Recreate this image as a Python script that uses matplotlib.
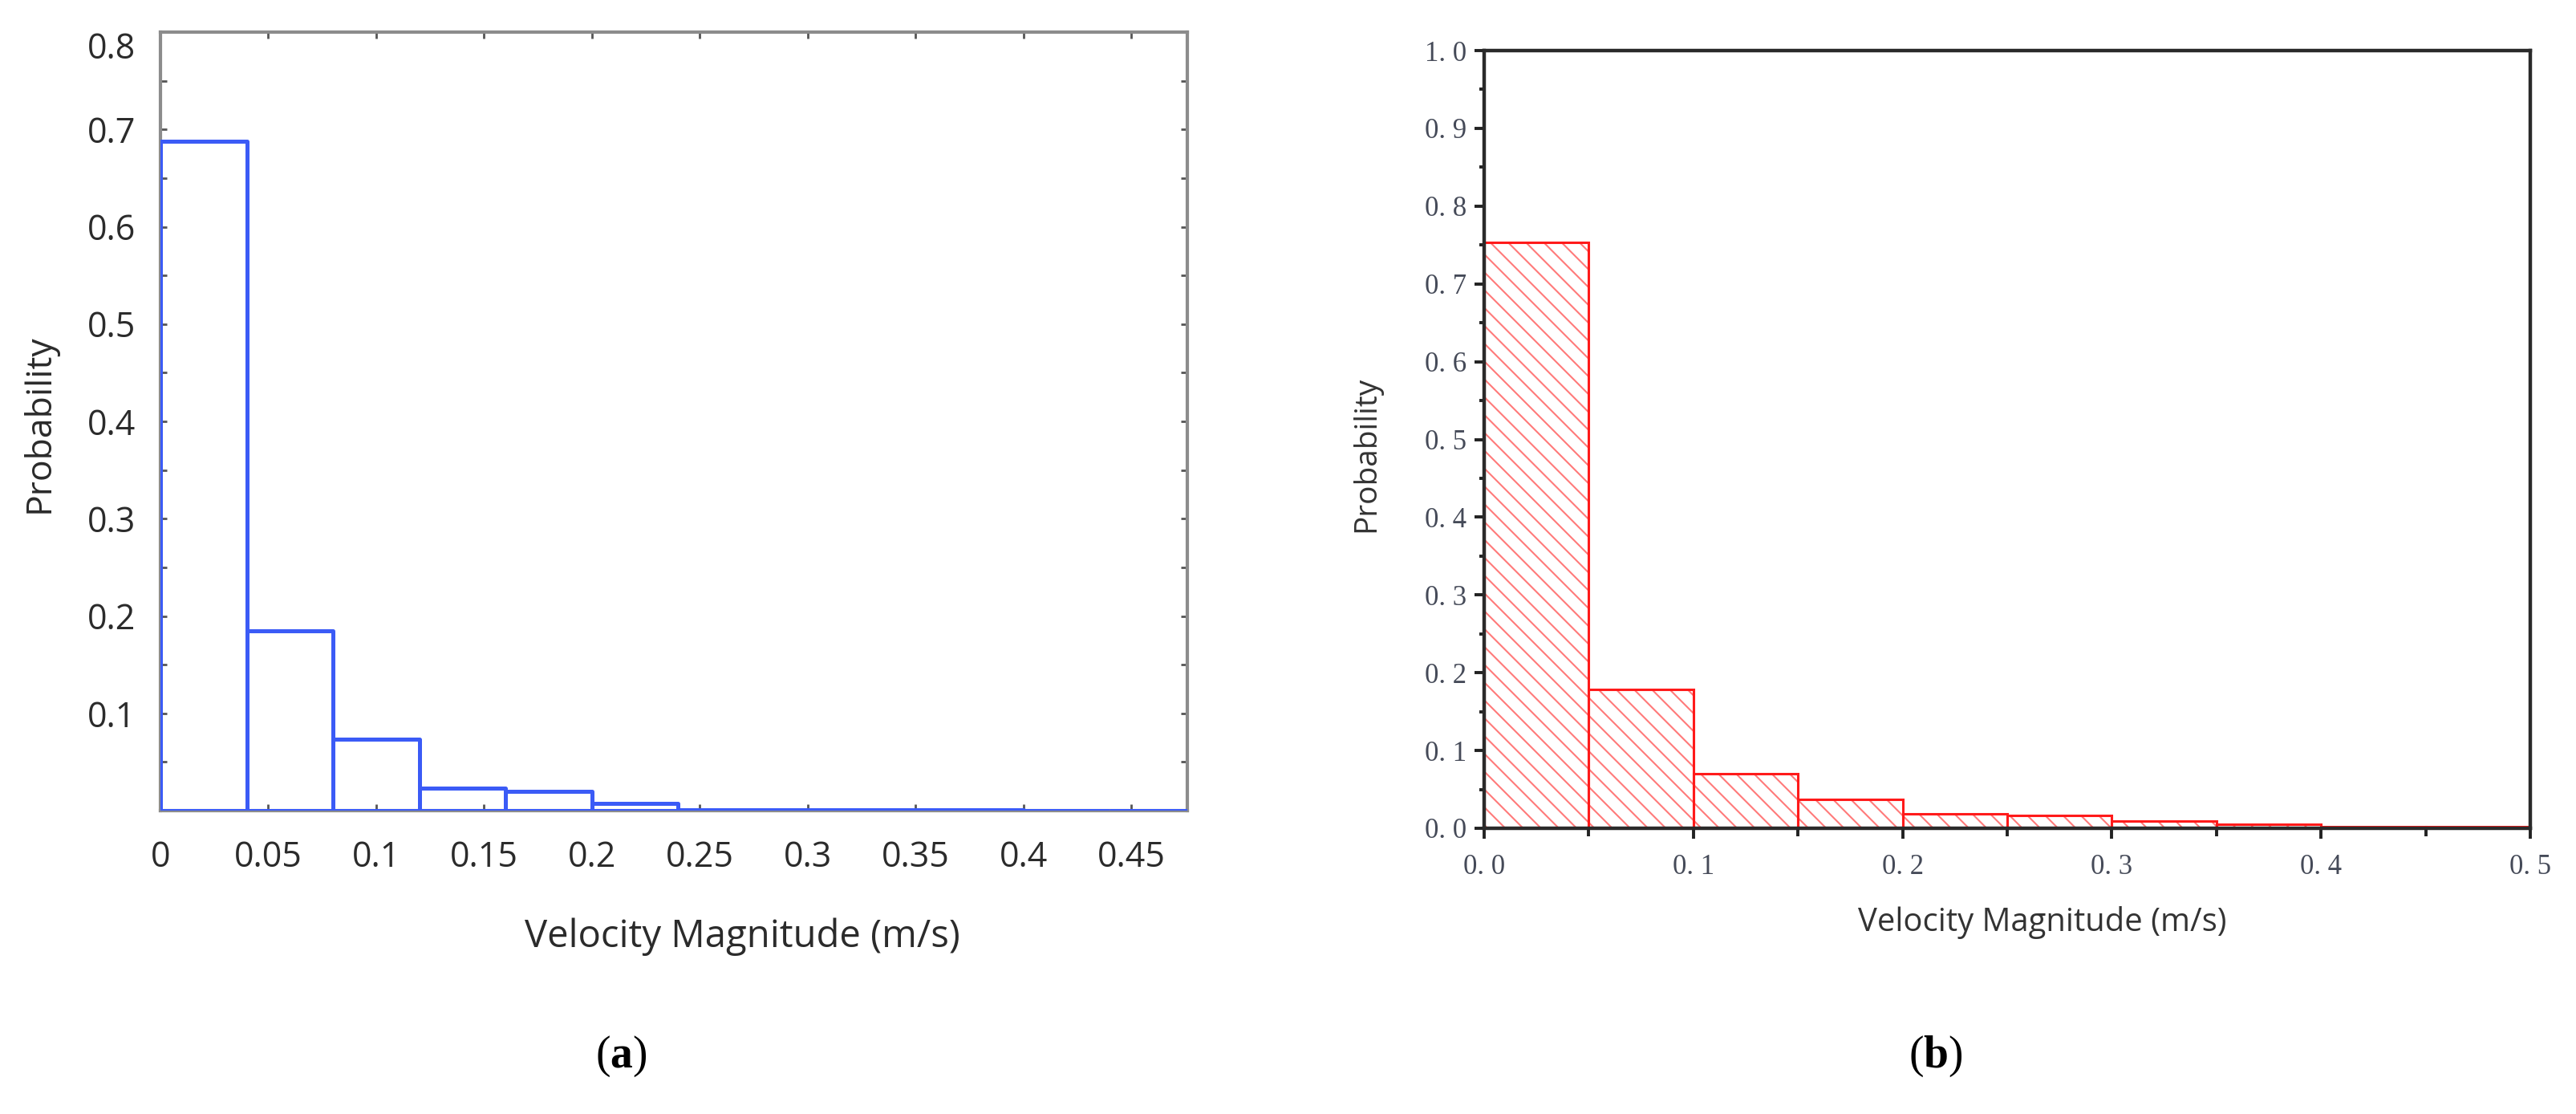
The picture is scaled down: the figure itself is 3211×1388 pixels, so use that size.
import matplotlib
matplotlib.use("Agg")
import matplotlib.pyplot as plt
import matplotlib.transforms as mtransforms
from matplotlib.ticker import MultipleLocator, FixedLocator

# ---------------- data ----------------
# panel (a): histogram of velocity magnitude (bin left edges, width 0.04)
bins_a = [0.00, 0.04, 0.08, 0.12, 0.16, 0.20, 0.24, 0.28, 0.32, 0.36, 0.40, 0.44]
prob_a = [0.688, 0.185, 0.073, 0.023, 0.020, 0.0075, 0.0010, 0.0008, 0.0006, 0.0005, 0.0004, 0.0003]
width_a = 0.04
xticks_a = [0, 0.05, 0.1, 0.15, 0.2, 0.25, 0.3, 0.35, 0.4, 0.45]
xticklabels_a = ["0", "0.05", "0.1", "0.15", "0.2", "0.25", "0.3", "0.35", "0.4", "0.45"]
yticks_a = [0.1, 0.2, 0.3, 0.4, 0.5, 0.6, 0.7, 0.8]
yticklabels_a = ["0.1", "0.2", "0.3", "0.4", "0.5", "0.6", "0.7", "0.8"]

# panel (b): histogram of velocity magnitude (bin left edges, width 0.05)
bins_b = [0.00, 0.05, 0.10, 0.15, 0.20, 0.25, 0.30, 0.35, 0.40, 0.45]
prob_b = [0.753, 0.179, 0.070, 0.037, 0.019, 0.016, 0.0095, 0.005, 0.0025, 0.002]
width_b = 0.05
xticks_b = [0.0, 0.1, 0.2, 0.3, 0.4, 0.5]
xticklabels_b = ["0. 0", "0. 1", "0. 2", "0. 3", "0. 4", "0. 5"]
yticks_b = [0.0, 0.1, 0.2, 0.3, 0.4, 0.5, 0.6, 0.7, 0.8, 0.9, 1.0]
yticklabels_b = ["0. 0", "0. 1", "0. 2", "0. 3", "0. 4", "0. 5", "0. 6", "0. 7", "0. 8", "0. 9", "1. 0"]

xlabel = "Velocity Magnitude (m/s)"
ylabel = "Probability"

# ---------------- figure ----------------
plt.rcParams["mathtext.fontset"] = "custom"
plt.rcParams["mathtext.rm"] = "Liberation Serif"
plt.rcParams["mathtext.bf"] = "Liberation Serif:bold"
plt.rcParams["hatch.linewidth"] = 0.75

W, H = 3212, 1388
DPI = 200
fig = plt.figure(figsize=(W / DPI, H / DPI), dpi=DPI)
fig.patch.set_facecolor("white")

sans = "Open Sans"
serif = "Liberation Serif"

# ---------- panel (a) ----------
axa = fig.add_axes([200 / W, 1 - 1010 / H, 1280 / W, 970 / H])
axa.bar(bins_a, prob_a, width=width_a, align="edge", fill=False,
        edgecolor="#3b5bf6", linewidth=1.8, joinstyle="round", zorder=3)
axa.set_xlim(0, 0.476)
axa.set_ylim(0, 0.8)
for s in axa.spines.values():
    s.set_color("#8c8c8c")
    s.set_linewidth(1.5)
axa.xaxis.set_major_locator(FixedLocator(xticks_a))
axa.set_xticklabels(xticklabels_a)
axa.yaxis.set_major_locator(FixedLocator(yticks_a))
axa.set_yticklabels(yticklabels_a)
axa.yaxis.set_minor_locator(MultipleLocator(0.05))
axa.tick_params(axis="both", which="both", direction="in", length=3, width=1.0,
                color="#555555", top=True, right=True)
axa.tick_params(axis="x", which="major", pad=13, labelsize=15.5, labelcolor="#2b2b2b")
axa.tick_params(axis="y", which="major", pad=11, labelsize=15.5, labelcolor="#2b2b2b")
for lab in axa.get_xticklabels() + axa.get_yticklabels():
    lab.set_fontfamily(sans)
# top y label sits a little below its tick in the reference
top_lab = axa.get_yticklabels()[-1]
top_lab.set_transform(top_lab.get_transform() +
                      mtransforms.ScaledTranslation(0, -16 / DPI, fig.dpi_scale_trans))

fig.text(49 / W, 1 - 528 / H, ylabel, rotation=90, ha="center", va="center",
         fontsize=16, family=sans, color="#2b2b2b")
fig.text(925 / W, 1 - 1167 / H, xlabel, ha="center", va="center",
         fontsize=17, family=sans, color="#2b2b2b")

# ---------- panel (b) ----------
axb = fig.add_axes([1850 / W, 1 - 1032 / H, 1304 / W, 969 / H])
axb.bar(bins_b, prob_b, width=width_b, align="edge", facecolor="white",
        edgecolor="#ff7a7a", hatch="\\\\\\", linewidth=0, zorder=2)
axb.bar(bins_b, prob_b, width=width_b, align="edge", fill=False,
        edgecolor="#ff1a1a", linewidth=1.1, zorder=3)
axb.set_xlim(0, 0.5)
axb.set_ylim(0, 1.0)
for s in axb.spines.values():
    s.set_color("#2a2a2a")
    s.set_linewidth(1.6)
    s.set_zorder(4)
axb.xaxis.set_major_locator(FixedLocator(xticks_b))
axb.set_xticklabels(xticklabels_b)
axb.xaxis.set_minor_locator(MultipleLocator(0.05))
axb.yaxis.set_major_locator(FixedLocator(yticks_b))
axb.set_yticklabels(yticklabels_b)
axb.yaxis.set_minor_locator(MultipleLocator(0.05))
axb.tick_params(axis="both", which="major", direction="out", length=4.5, width=1.4,
                color="#222222", labelsize=12.5, labelcolor="#454a58")
axb.tick_params(axis="y", which="minor", direction="out", length=2.2, width=1.4, color="#222222")
axb.tick_params(axis="x", which="minor", direction="out", length=3.5, width=1.4, color="#222222")
axb.tick_params(axis="x", which="major", pad=7)
axb.tick_params(axis="y", which="major", pad=3.5)
for lab in axb.get_xticklabels() + axb.get_yticklabels():
    lab.set_fontfamily(serif)

fig.text(1703 / W, 1 - 566 / H, ylabel, rotation=90, ha="center", va="center",
         fontsize=14, family=sans, color="#333333")
fig.text(2546 / W, 1 - 1149 / H, xlabel, ha="center", va="center",
         fontsize=14.4, family=sans, color="#333333")

# ---------- captions ----------
fig.text(774 / W, 1 - 1316 / H, "(" + r"$\mathbf{a}$" + ")", ha="center", va="center",
         fontsize=20, family=serif, color="black")
fig.text(2413 / W, 1 - 1316 / H, "(" + r"$\mathbf{b}$" + ")", ha="center", va="center",
         fontsize=20, family=serif, color="black")

fig.savefig("out.png", dpi=DPI, facecolor="white")
